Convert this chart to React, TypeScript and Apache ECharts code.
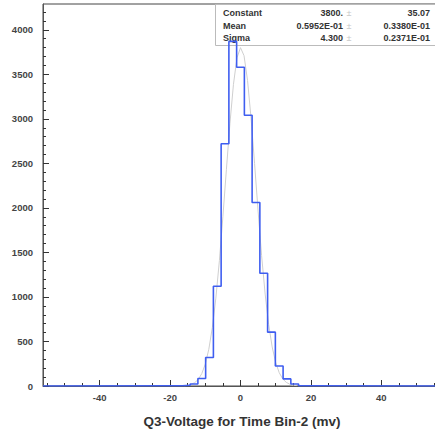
import React, { useEffect, useRef } from "react";
import * as echarts from "echarts";

// Histogram bins (width 2.2, centred on multiples of 2.2); all other bins are empty
const binCenters = [-17.6, -15.4, -13.2, -11.0, -8.8, -6.6, -4.4, -2.2, 0, 2.2, 4.4, 6.6, 8.8, 11.0, 13.2, 15.4, 17.6];
const binCounts = [2, 8, 22, 85, 320, 1120, 2720, 3870, 3580, 3040, 2060, 1267, 605, 225, 80, 22, 3];
const binWidth = 2.2;
const xRange = [-56.1, 56.1];

// Gaussian fit curve points
const fitX = [-16, -15, -14, -13, -12, -11, -10, -9, -8, -7, -6, -5, -4, -3, -2, -1, 0, 1, 2, 3, 4, 5, 6, 7, 8, 9, 10, 11, 12, 13, 14, 15, 16];
const fitY = [3, 8, 18, 38, 74, 139, 246, 413, 656, 987, 1407, 1902, 2433, 2950, 3388, 3686, 3800, 3710, 3432, 3008, 2497, 1964, 1463, 1033, 691, 438, 263, 149, 80, 41, 20, 9, 4];

// Axis ticks
const xMajorTicks = [-40, -20, 0, 20, 40];
const xMinorTicks = [-55, -50, -45, -35, -30, -25, -15, -10, -5, 5, 10, 15, 25, 30, 35, 45, 50, 55];
const yMajorTicks = [0, 500, 1000, 1500, 2000, 2500, 3000, 3500, 4000];
const yMinorTicks = [100, 200, 300, 400, 600, 700, 800, 900, 1100, 1200, 1300, 1400, 1600, 1700, 1800, 1900, 2100, 2200, 2300, 2400, 2600, 2700, 2800, 2900, 3100, 3200, 3300, 3400, 3600, 3700, 3800, 3900, 4100, 4200];
const yMax = 4290;

// Stats box
const statNames = ["Constant", "Mean", "Sigma"];
const statValues = ["3800.", "0.5952E-01", "4.300"];
const statErrors = ["35.07", "0.3380E-01", "0.2371E-01"];
const xTitle = "Q3-Voltage for Time Bin-2 (mv)";

const FONT = "'Liberation Sans', Arial, sans-serif";
const TICK = { color: "#333", width: 1 };

export default function App() {
  const ref = useRef<HTMLDivElement>(null);
  useEffect(() => {
    document.body.style.margin = "0";
    const chart = echarts.init(ref.current!, null, { renderer: "svg" });

    const histPts: number[][] = [[xRange[0], 0]];
    binCenters.forEach((c, i) => {
      histPts.push([c - binWidth / 2, binCounts[i]]);
      histPts.push([c + binWidth / 2, binCounts[i]]);
    });
    histPts.push([xRange[1], 0]);
    const fitPts = fitX.map((x, i) => [x, fitY[i]]);

    const statTexts: any[] = [];
    statNames.forEach((n, i) => {
      const y = 13 + i * 12.5;
      const base = { fontFamily: FONT, fontWeight: "bold", fontSize: 9, fill: "#333", verticalAlign: "middle" };
      statTexts.push({ type: "text", x: 223, y, style: { ...base, text: n, align: "left" } });
      statTexts.push({ type: "text", x: 343, y, style: { ...base, text: statValues[i], align: "right" } });
      statTexts.push({ type: "text", x: 349, y, style: { ...base, text: "±", align: "center", fill: "#c8c8c8", fontWeight: "normal" } });
      statTexts.push({ type: "text", x: 430, y, style: { ...base, text: statErrors[i], align: "right" } });
    });

    const axisCommon = { type: "value", min: xRange[0], max: xRange[1], position: "bottom", splitLine: { show: false } };
    const yCommon = { type: "value", min: 0, max: yMax, position: "left", splitLine: { show: false } };

    chart.setOption({
      animation: false,
      grid: { left: 43, top: 4, bottom: 46, right: 0, show: true, borderColor: "#444", borderWidth: 1, backgroundColor: "transparent" },
      xAxis: [
        {
          ...axisCommon,
          axisLine: { show: true, onZero: false, lineStyle: { color: "#555", width: 1 } },
          axisTick: { show: true, inside: true, length: 6, customValues: xMajorTicks, lineStyle: TICK },
          axisLabel: { show: true, customValues: xMajorTicks, margin: 6, fontFamily: FONT, fontWeight: "bold", fontSize: 9.5, color: "#444" },
        },
        {
          ...axisCommon,
          axisLine: { show: false, onZero: false },
          axisTick: { show: true, inside: true, length: 3, customValues: xMinorTicks, lineStyle: TICK },
          axisLabel: { show: false },
        },
      ],
      yAxis: [
        {
          ...yCommon,
          axisLine: { show: true, onZero: false, lineStyle: { color: "#555", width: 1 } },
          axisTick: { show: true, inside: true, length: 6, customValues: yMajorTicks, lineStyle: TICK },
          axisLabel: { show: true, customValues: yMajorTicks, margin: 10, fontFamily: FONT, fontWeight: "bold", fontSize: 9.5, color: "#444", formatter: (v: number) => String(v) },
        },
        {
          ...yCommon,
          axisLine: { show: false, onZero: false },
          axisTick: { show: true, inside: true, length: 3, customValues: yMinorTicks, lineStyle: TICK },
          axisLabel: { show: false },
        },
      ],
      graphic: [
        {
          type: "rect",
          z: 0,
          shape: { x: 215.5, y: 4.5, width: 230, height: 41 },
          style: { fill: "#fff", stroke: "#bbb", lineWidth: 1 },
        },
        ...statTexts.map((t) => ({ ...t, z: 1 })),
        {
          type: "text",
          x: 242,
          y: 421,
          style: { text: xTitle, fontFamily: FONT, fontWeight: "bold", fontSize: 13.5, fill: "#333", align: "center", verticalAlign: "middle" },
        },
      ],
      series: [
        {
          type: "line",
          xAxisIndex: 0,
          yAxisIndex: 0,
          data: fitPts,
          symbol: "none",
          z: 3,
          lineStyle: { color: "#cfcfcf", width: 1 },
        },
        {
          type: "line",
          xAxisIndex: 0,
          yAxisIndex: 0,
          data: histPts,
          symbol: "none",
          z: 4,
          lineStyle: { color: "#3f5ef0", width: 1.6 },
        },
      ],
    });
    return () => chart.dispose();
  }, []);
  return (
    <div style={{ width: 435, height: 432, overflow: "hidden", position: "relative" }}>
      <div ref={ref} style={{ width: 438, height: 432 }} />
    </div>
  );
}
